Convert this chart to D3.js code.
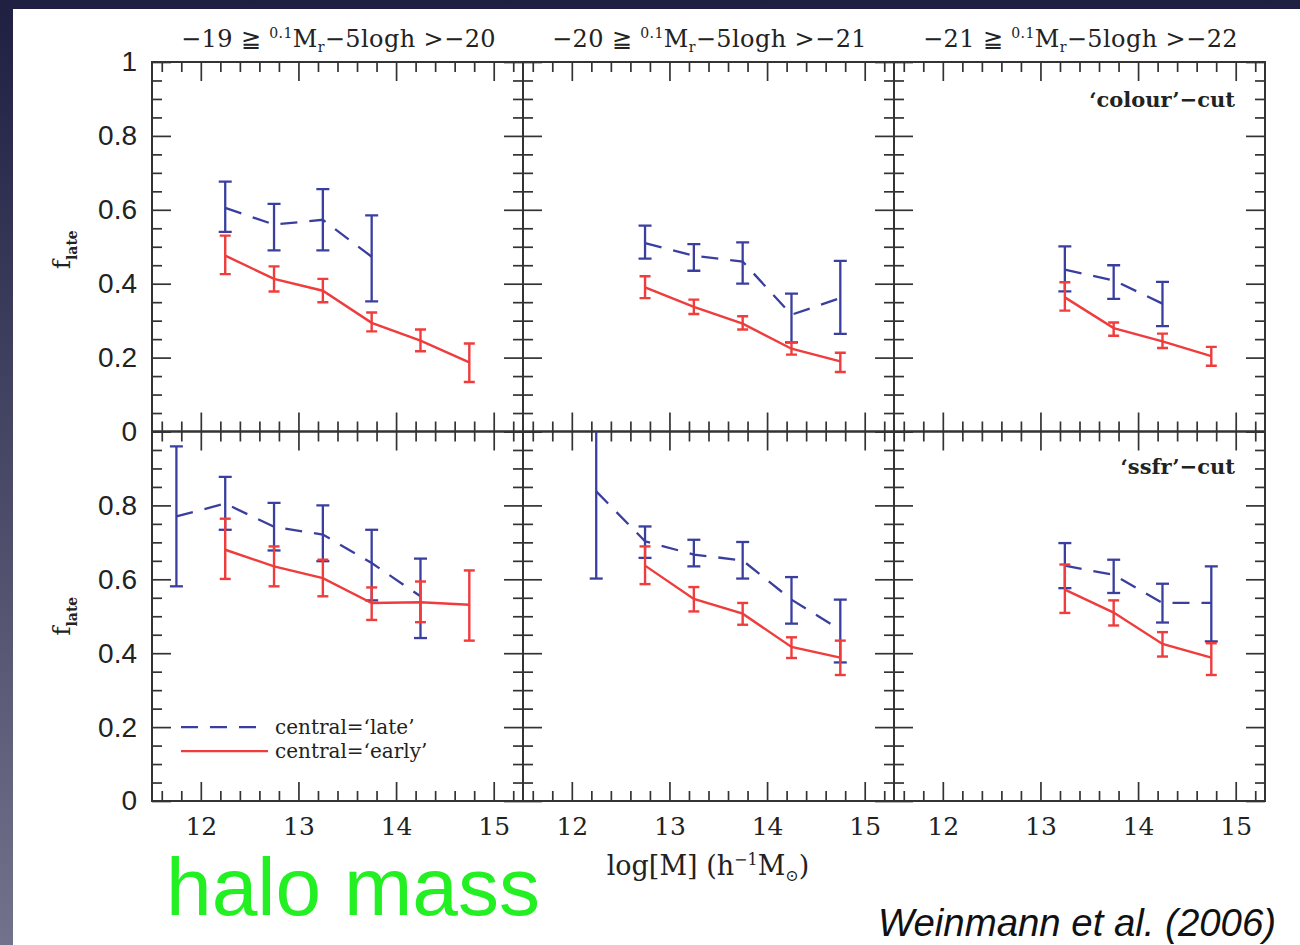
<!DOCTYPE html>
<html>
<head>
<meta charset="utf-8">
<script src="https://cdn.jsdelivr.net/npm/d3@7"></script>
<style>
  html, body { margin: 0; padding: 0; background: #ffffff; }
  svg { display: block; }
</style>
</head>
<body>
<svg id="chart" width="1300" height="945"></svg>
<script>
// ---------------- DATA ----------------
// each entry: [log M, f_late, lower error, upper error]
const colourM19Late  = [[12.25,0.605,0.54,0.676],[12.75,0.56,0.49,0.616],[13.25,0.573,0.49,0.656],[13.75,0.473,0.352,0.585]];
const colourM19Early = [[12.25,0.476,0.426,0.53],[12.75,0.413,0.379,0.447],[13.25,0.381,0.35,0.413],[13.75,0.294,0.271,0.322],[14.25,0.246,0.217,0.276],[14.75,0.187,0.134,0.238]];
const colourM20Late  = [[12.75,0.51,0.468,0.557],[13.25,0.476,0.435,0.507],[13.75,0.46,0.40,0.512],[14.25,0.316,0.241,0.373],[14.75,0.361,0.264,0.462]];
const colourM20Early = [[12.75,0.39,0.361,0.42],[13.25,0.337,0.318,0.357],[13.75,0.292,0.276,0.312],[14.25,0.224,0.208,0.241],[14.75,0.19,0.161,0.213]];
const colourM21Late  = [[13.25,0.438,0.379,0.501],[13.75,0.409,0.359,0.45],[14.25,0.346,0.285,0.405]];
const colourM21Early = [[13.25,0.363,0.327,0.404],[13.75,0.28,0.259,0.295],[14.25,0.244,0.226,0.265],[14.75,0.204,0.178,0.229]];
const ssfrM19Late    = [[11.75,0.77,0.581,0.96],[12.25,0.805,0.734,0.877],[12.75,0.742,0.678,0.807],[13.25,0.721,0.649,0.80],[13.75,0.644,0.543,0.734],[14.25,0.554,0.441,0.656]];
const ssfrM19Early   = [[12.25,0.68,0.601,0.764],[12.75,0.635,0.581,0.689],[13.25,0.603,0.554,0.653],[13.75,0.536,0.49,0.578],[14.25,0.538,0.484,0.594],[14.75,0.531,0.434,0.624]];
const ssfrM20Late    = [[12.25,0.838,0.602,1.1],[12.75,0.703,0.658,0.743],[13.25,0.667,0.635,0.707],[13.75,0.651,0.602,0.701],[14.25,0.545,0.48,0.606],[14.75,0.463,0.375,0.545]];
const ssfrM20Early   = [[12.75,0.637,0.587,0.689],[13.25,0.547,0.513,0.579],[13.75,0.507,0.477,0.536],[14.25,0.417,0.387,0.443],[14.75,0.388,0.341,0.434]];
const ssfrM21Late    = [[13.25,0.637,0.576,0.698],[13.75,0.612,0.563,0.653],[14.25,0.536,0.483,0.588],[14.75,0.536,0.432,0.635]];
const ssfrM21Early   = [[13.25,0.572,0.509,0.64],[13.75,0.51,0.475,0.543],[14.25,0.425,0.391,0.457],[14.75,0.388,0.341,0.427]];

const magBins   = [["−19", "−20"], ["−20", "−21"], ["−21", "−22"]];
const cutLabels = ["‘colour’−cut", "‘ssfr’−cut"];
const legendLabels = ["central=‘late’", "central=‘early’"];
const xMajorTicks = [12, 13, 14, 15];
const xMinorTicks = [11.6,11.8,12.2,12.4,12.6,12.8,13.2,13.4,13.6,13.8,14.2,14.4,14.6,14.8,15.2];
const yMajorTicks = [0, 0.2, 0.4, 0.6, 0.8, 1];
const yMinorTicks = [0.05,0.1,0.15,0.25,0.3,0.35,0.45,0.5,0.55,0.65,0.7,0.75,0.85,0.9,0.95];
const xDomain = [11.5, 15.3];
const yDomain = [0, 1];

const panelData = [
  [ [colourM19Late, colourM19Early], [colourM20Late, colourM20Early], [colourM21Late, colourM21Early] ],
  [ [ssfrM19Late, ssfrM19Early],     [ssfrM20Late, ssfrM20Early],     [ssfrM21Late, ssfrM21Early] ]
];

// ---------------- LAYOUT / STYLE ----------------
const W = 1300, H = 945;
const colLeft = [152, 523, 894], colW = 371;
const rowTop = [62, 431.5], rowH = 369.5;
const BLUE = "#3a3f9f", RED = "#ef3c3c", AXIS = "#333";
const SERIF = "'DejaVu Serif', 'Liberation Serif', serif";
const SANS = "'Liberation Sans', Arial, sans-serif";

const svg = d3.select("#chart");
const defs = svg.append("defs");
const grad = defs.append("linearGradient").attr("id", "bg").attr("x1", 0).attr("y1", 0).attr("x2", 0).attr("y2", 1);
grad.append("stop").attr("offset", "0%").attr("stop-color", "#1f1f42");
grad.append("stop").attr("offset", "100%").attr("stop-color", "#72728c");
svg.append("rect").attr("width", W).attr("height", H).attr("fill", "url(#bg)");
svg.append("rect").attr("x", 13).attr("y", 9).attr("width", W - 13).attr("height", H - 9).attr("fill", "#ffffff");

const fmtY = d => d === 0 ? "0" : d === 1 ? "1" : d3.format(".1f")(d);

function styleAxis(g) {
  g.select(".domain").remove();
  g.selectAll(".tick line").attr("stroke", AXIS).attr("stroke-width", 1.7);
}

panelData.forEach((row, r) => {
  row.forEach((series, c) => {
    const x0 = colLeft[c], y0 = rowTop[r];
    const x = d3.scaleLinear().domain(xDomain).range([x0, x0 + colW]);
    const y = d3.scaleLinear().domain(yDomain).range([y0 + rowH, y0]);
    const g = svg.append("g");
    const clipId = `clip-${r}-${c}`;
    defs.append("clipPath").attr("id", clipId).append("rect")
      .attr("x", x0).attr("y", y0).attr("width", colW).attr("height", rowH);

    // axes: ticks on all four sides pointing inward
    const showX = r === 1, showY = c === 0;
    g.append("g").attr("transform", `translate(0,${y0 + rowH})`)
      .call(d3.axisBottom(x).tickValues(xMajorTicks).tickSize(-19).tickPadding(16)
        .tickFormat(showX ? d3.format("d") : () => ""))
      .call(styleAxis)
      .call(a => a.selectAll("text").attr("font-family", SERIF).attr("font-size", 25).attr("fill", "#222"));
    g.append("g").attr("transform", `translate(0,${y0 + rowH})`)
      .call(d3.axisBottom(x).tickValues(xMinorTicks).tickSize(-10).tickFormat(() => "")).call(styleAxis);
    g.append("g").attr("transform", `translate(0,${y0})`)
      .call(d3.axisTop(x).tickValues(xMajorTicks).tickSize(-19).tickFormat(() => "")).call(styleAxis);
    g.append("g").attr("transform", `translate(0,${y0})`)
      .call(d3.axisTop(x).tickValues(xMinorTicks).tickSize(-10).tickFormat(() => "")).call(styleAxis);
    g.append("g").attr("transform", `translate(${x0},0)`)
      .call(d3.axisLeft(y).tickValues(yMajorTicks).tickSize(-19).tickPadding(15)
        .tickFormat(d => (!showY || (r === 1 && d === 1)) ? "" : fmtY(d)))
      .call(styleAxis)
      .call(a => a.selectAll("text").attr("font-family", SANS).attr("font-size", 28).attr("fill", "#222"));
    g.append("g").attr("transform", `translate(${x0},0)`)
      .call(d3.axisLeft(y).tickValues(yMinorTicks).tickSize(-10).tickFormat(() => "")).call(styleAxis);
    g.append("g").attr("transform", `translate(${x0 + colW},0)`)
      .call(d3.axisRight(y).tickValues(yMajorTicks).tickSize(-19).tickFormat(() => "")).call(styleAxis);
    g.append("g").attr("transform", `translate(${x0 + colW},0)`)
      .call(d3.axisRight(y).tickValues(yMinorTicks).tickSize(-10).tickFormat(() => "")).call(styleAxis);

    g.append("rect").attr("x", x0).attr("y", y0).attr("width", colW).attr("height", rowH)
      .attr("fill", "none").attr("stroke", AXIS).attr("stroke-width", 2);

    // data
    const dg = g.append("g").attr("clip-path", `url(#${clipId})`);
    const line = d3.line().x(d => x(d[0])).y(d => y(d[1]));
    const styles = [
      { color: BLUE, dash: "17,12", cap: 6.5, width: 2.3 },
      { color: RED,  dash: null,    cap: 5.5, width: 2.4 }
    ];
    series.forEach((s, i) => {
      const st = styles[i];
      dg.append("path").datum(s).attr("d", line).attr("fill", "none")
        .attr("stroke", st.color).attr("stroke-width", st.width)
        .attr("stroke-dasharray", st.dash);
      const eb = dg.append("g").attr("stroke", st.color).attr("stroke-width", st.width);
      eb.selectAll("line.v").data(s).join("line").attr("class", "v")
        .attr("x1", d => x(d[0])).attr("x2", d => x(d[0]))
        .attr("y1", d => y(d[2])).attr("y2", d => y(d[3]));
      eb.selectAll("line.lo").data(s).join("line").attr("class", "lo")
        .attr("x1", d => x(d[0]) - st.cap).attr("x2", d => x(d[0]) + st.cap)
        .attr("y1", d => y(d[2])).attr("y2", d => y(d[2]));
      eb.selectAll("line.hi").data(s).join("line").attr("class", "hi")
        .attr("x1", d => x(d[0]) - st.cap).attr("x2", d => x(d[0]) + st.cap)
        .attr("y1", d => y(d[3])).attr("y2", d => y(d[3]));
    });

    // column titles
    if (r === 0) {
      const t = svg.append("text").attr("x", x0 + colW / 2 + 1).attr("y", 47)
        .attr("text-anchor", "middle").attr("font-family", SERIF).attr("font-size", 24)
        .attr("letter-spacing", 0.4).attr("fill", "#222");
      t.append("tspan").text(`${magBins[c][0]} ≧ `);
      t.append("tspan").attr("font-size", 14).attr("dy", -9).text("0.1");
      t.append("tspan").attr("dy", 9).text("M");
      t.append("tspan").attr("font-size", 14).attr("dy", 5).text("r");
      t.append("tspan").attr("dy", -5).text(`−5logh >${magBins[c][1]}`);
    }
    // cut labels
    if (c === 2) {
      svg.append("text").attr("x", x0 + colW - 30).attr("y", r === 0 ? 107 : 474)
        .attr("text-anchor", "end").attr("font-family", SERIF).attr("font-weight", "bold")
        .attr("font-size", 21).attr("fill", "#222").text(cutLabels[r]);
    }
    // y axis title
    if (c === 0) {
      const yc = y0 + rowH / 2 + (r === 0 ? 3 : 0);
      const t = svg.append("text").attr("transform", `translate(70,${yc}) rotate(-90)`)
        .attr("text-anchor", "middle").attr("font-family", SERIF).attr("font-size", 25).attr("fill", "#222");
      t.append("tspan").text("f");
      t.append("tspan").attr("font-size", 14).attr("font-weight", "bold").attr("dy", 7).text("late");
    }
    // legend in bottom-left panel
    if (r === 1 && c === 0) {
      const lg = svg.append("g");
      const ly = [y(0.2), y(0.135)];
      styles.forEach((st, i) => {
        lg.append("line").attr("x1", x0 + 29).attr("x2", x0 + (i === 0 ? 111 : 116))
          .attr("y1", ly[i]).attr("y2", ly[i]).attr("stroke", st.color).attr("stroke-width", st.width)
          .attr("stroke-dasharray", st.dash);
        lg.append("text").attr("x", x0 + 123).attr("y", ly[i] + 7)
          .attr("font-family", SERIF).attr("font-size", 20).attr("fill", "#222").text(legendLabels[i]);
      });
    }
  });
});

// x axis title
const xt = svg.append("text").attr("x", 708).attr("y", 875).attr("text-anchor", "middle")
  .attr("font-family", SERIF).attr("font-size", 27).attr("fill", "#222");
xt.append("tspan").text("log[M] (h");
xt.append("tspan").attr("font-size", 16).attr("dy", -10).text("−1");
xt.append("tspan").attr("dy", 10).text("M");
xt.append("tspan").attr("font-size", 16).attr("dy", 6).text("⊙");
xt.append("tspan").attr("dy", -6).text(")");

// annotations
svg.append("text").attr("x", 166).attr("y", 915).attr("font-family", SANS).attr("font-size", 82)
  .attr("textLength", 374).attr("lengthAdjust", "spacingAndGlyphs")
  .attr("fill", "#22f022").text("halo mass");
svg.append("text").attr("x", 1276).attr("y", 936).attr("text-anchor", "end")
  .attr("font-family", SANS).attr("font-style", "italic").attr("font-size", 38)
  .attr("textLength", 398).attr("lengthAdjust", "spacingAndGlyphs")
  .attr("fill", "#111").text("Weinmann et al. (2006)");
</script>
</body>
</html>
